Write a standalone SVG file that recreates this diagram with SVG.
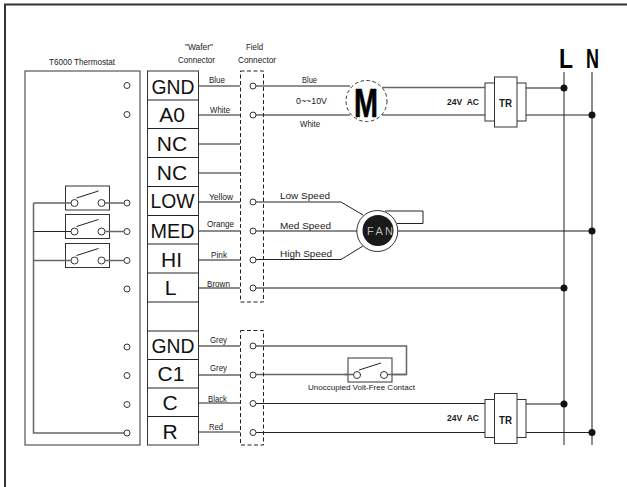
<svg xmlns="http://www.w3.org/2000/svg" width="627" height="487" viewBox="0 0 627 487">
<style>
text{font-family:"Liberation Sans",Arial,sans-serif;fill:#1a1a1a}
.w{fill:none;stroke:#222;stroke-width:1}
.g{fill:none;stroke:#666;stroke-width:1.5}
.b{fill:#fff;stroke:#333;stroke-width:1}
.d{fill:none;stroke:#222;stroke-width:1;stroke-dasharray:4 2.5}
.t{fill:#fff;stroke:#333;stroke-width:1}
.h{font-size:9.500px}
.s{font-size:9px}
.k{font-size:21px;text-anchor:middle;fill:#111}
.dot{fill:#111}
</style>
<defs>
<g id="sw"><rect class="b" x="-9" y="-17" width="44" height="24"/><circle class="t" cx="0" cy="0" r="3.5"/><circle class="t" cx="27" cy="0" r="3.5"/><path class="w" d="M2-5L24-12"/></g>
<circle id="ct" class="t" r="3"/>
<g id="tr"><rect class="b" x="485" y="6" width="41" height="38"/><rect class="b" x="494.5" y="0" width="22.5" height="50"/></g>
</defs>
<rect width="627" height="487" fill="#fff"/>
<path d="M627 4.500H5V487" fill="none" stroke="#333" stroke-width="2"/>
<g id="labels">
<text class="h" x="49" y="65" textLength="66" lengthAdjust="spacingAndGlyphs">T6000 Thermostat</text>
<text class="h" x="185" y="50" textLength="28" lengthAdjust="spacingAndGlyphs">"Wafer"</text>
<text class="h" x="178" y="63" textLength="37" lengthAdjust="spacingAndGlyphs">Connector</text>
<text class="h" x="246" y="50" textLength="17" lengthAdjust="spacingAndGlyphs">Field</text>
<text class="h" x="238" y="63" textLength="38" lengthAdjust="spacingAndGlyphs">Connector</text>
</g>
<g id="connectors">
<path class="w" d="M198 86H240M198 115H240M198 144H240M198 173H240"/>
<path class="g" d="M198 202H240M198 231H240M198 260H240M198 288H240M198 346H240M198 375H240"/>
<path class="w" d="M198 403H240M198 432H240"/>
<path class="w" d="M256 86H350"/>
<path class="g" d="M382 87.500H485M526 88H564"/>
<path class="g" d="M256 115H350"/>
<path class="w" d="M382 115H485M526 115H592"/>
<path class="w" d="M256 202H341L363 215M256 259.500H341L363 246"/>
<path class="g" d="M256 231H357M397 231H592M256 288H564"/>
<path class="w" d="M385 211H423V223.500H397"/>
<path class="g" d="M256 346H406.500V374.500H392M256 374.500H348"/>
<path class="w" d="M256 403.500H485M256 432.500H485M526 432.500H592"/>
<path class="g" d="M526 404H564"/>
<path class="w" d="M564 72V445"/>
<path class="g" d="M592 72V445"/>
<path class="g" d="M33.500 203V433H124"/>
</g>
<g class="dot"><circle cx="564" cy="88" r="3.500"/><circle cx="592" cy="115" r="3.500"/><circle cx="592" cy="231" r="3.500"/><circle cx="564" cy="288" r="3.500"/><circle cx="564" cy="404" r="3.500"/><circle cx="592" cy="432.500" r="3.500"/></g>
<g id="thermostat">
<rect x="25" y="71" width="115" height="374" fill="none" stroke="#333"/>
<use href="#ct" x="127" y="85.500"/><use href="#ct" x="127" y="114.500"/><use href="#ct" x="127" y="203"/><use href="#ct" x="127" y="231.500"/><use href="#ct" x="127" y="260.500"/><use href="#ct" x="127" y="289"/><use href="#ct" x="127" y="347"/><use href="#ct" x="127" y="375.500"/><use href="#ct" x="127" y="404.500"/><use href="#ct" x="127" y="433"/>
<use href="#sw" x="74.500" y="203"/><use href="#sw" x="74.500" y="231.500"/><use href="#sw" x="74.500" y="260.500"/>
<path class="g" d="M33.500 203H71M105 203H124"/><path class="w" d="M33.500 231.500H71"/><path class="g" d="M105 231.500H124M33.500 260.500H71M105 260.500H124"/>
</g>
<g id="wafer">
<rect x="147.500" y="71" width="51" height="374" fill="#fff" stroke="#333"/>
<path class="w" d="M147.500 100H198.500M147.500 128.500H198.500M147.500 157.500H198.500M147.500 186.500H198.500M147.500 215.500H198.500M147.500 244H198.500M147.500 273H198.500M147.500 302H198.500M147.500 331H198.500M147.500 359.500H198.500M147.500 388H198.500M147.500 416.500H198.500"/>
<text class="k" x="173" y="94" textLength="43" lengthAdjust="spacingAndGlyphs">GND</text><text class="k" x="172" y="122">A0</text><text class="k" x="172" y="151">NC</text><text class="k" x="172" y="180">NC</text><text class="k" x="172.500" y="208" textLength="44" lengthAdjust="spacingAndGlyphs">LOW</text><text class="k" x="172.500" y="238" textLength="44" lengthAdjust="spacingAndGlyphs">MED</text><text class="k" x="171.500" y="267">HI</text><text class="k" x="170.500" y="295">L</text><text class="k" x="173" y="353" textLength="43" lengthAdjust="spacingAndGlyphs">GND</text><text class="k" x="171" y="381">C1</text><text class="k" x="170" y="410">C</text><text class="k" x="170" y="439">R</text>
</g>
<g id="wire-labels">
<text class="s" x="209" y="83" textLength="16" lengthAdjust="spacingAndGlyphs">Blue</text>
<text class="s" x="210" y="113" textLength="20" lengthAdjust="spacingAndGlyphs">White</text>
<text class="s" x="209" y="200" textLength="24" lengthAdjust="spacingAndGlyphs">Yellow</text>
<text class="s" x="207" y="227" textLength="27" lengthAdjust="spacingAndGlyphs">Orange</text>
<text class="s" x="211" y="258" textLength="16" lengthAdjust="spacingAndGlyphs">Pink</text>
<text class="s" x="207" y="287" textLength="23" lengthAdjust="spacingAndGlyphs">Brown</text>
<text class="s" x="210" y="343" textLength="17" lengthAdjust="spacingAndGlyphs">Grey</text>
<text class="s" x="210" y="371" textLength="17" lengthAdjust="spacingAndGlyphs">Grey</text>
<text class="s" x="208" y="402" textLength="19" lengthAdjust="spacingAndGlyphs">Black</text>
<text class="s" x="209" y="430" textLength="14" lengthAdjust="spacingAndGlyphs">Red</text>
<text class="s" x="302" y="83" textLength="15" lengthAdjust="spacingAndGlyphs">Blue</text>
<text class="s" x="296" y="104" textLength="31" lengthAdjust="spacingAndGlyphs">0~~10V</text>
<text class="s" x="300" y="127" textLength="20" lengthAdjust="spacingAndGlyphs">White</text>
<text font-size="9.500" x="280" y="199" textLength="50" lengthAdjust="spacingAndGlyphs">Low Speed</text>
<text font-size="9.500" x="280" y="229" textLength="51" lengthAdjust="spacingAndGlyphs">Med Speed</text>
<text font-size="9.500" x="280" y="257" textLength="52" lengthAdjust="spacingAndGlyphs">High Speed</text>
<text class="s" x="447" y="105" font-weight="bold" xml:space="preserve" textLength="32" lengthAdjust="spacingAndGlyphs">24V  AC</text>
<text class="s" x="447" y="421" font-weight="bold" xml:space="preserve" textLength="32" lengthAdjust="spacingAndGlyphs">24V  AC</text>
</g>
<g id="field-connector-1"><rect class="d" x="240.500" y="71" width="23" height="231"/><use href="#ct" x="253" y="86"/><use href="#ct" x="253" y="115"/><use href="#ct" x="253" y="202"/><use href="#ct" x="253" y="231"/><use href="#ct" x="253" y="260"/><use href="#ct" x="253" y="288"/></g>
<g id="field-connector-2"><rect class="d" x="240.500" y="330.500" width="23" height="114.500"/><use href="#ct" x="253" y="346"/><use href="#ct" x="253" y="375"/><use href="#ct" x="253" y="403.500"/><use href="#ct" x="253" y="432.500"/></g>
<g id="motor"><circle cx="366.500" cy="101" r="20.500" fill="#fff" stroke="#333" stroke-dasharray="3.500 2.500"/><text x="354" y="117" font-size="40" font-weight="bold" textLength="24" lengthAdjust="spacingAndGlyphs" style="fill:#000;stroke:#000;stroke-width:.6">M</text></g>
<g id="fan"><circle cx="377.300" cy="231" r="20.500" fill="#fff" stroke="#333"/><circle cx="378" cy="230.500" r="15.500" fill="#1a1a1a"/><text x="367" y="234.500" font-size="11" style="fill:#bbb" textLength="26" lengthAdjust="spacing">FAN</text></g>
<g id="tr-1" transform="translate(0 77)"><use href="#tr"/><text x="499" y="30" font-size="11" font-weight="bold" textLength="13" lengthAdjust="spacingAndGlyphs">TR</text></g>
<g id="tr-2" transform="translate(0 393.500)"><use href="#tr"/><text x="499" y="30" font-size="11" font-weight="bold" textLength="13" lengthAdjust="spacingAndGlyphs">TR</text></g>
<g id="contact"><use href="#sw" x="357" y="375"/><path class="g" d="M344 374.500H353.500M387.500 374.500H406"/><text x="308" y="390" font-size="7.500" textLength="107" lengthAdjust="spacingAndGlyphs">Unoccupied Volt-Free Contact</text></g>
<g id="mains"><text x="559" y="68" font-size="28" font-weight="bold" style="fill:#000" textLength="14" lengthAdjust="spacingAndGlyphs">L</text><text x="586" y="68" font-size="28" font-weight="bold" style="fill:#000" textLength="13" lengthAdjust="spacingAndGlyphs">N</text></g>
</svg>
